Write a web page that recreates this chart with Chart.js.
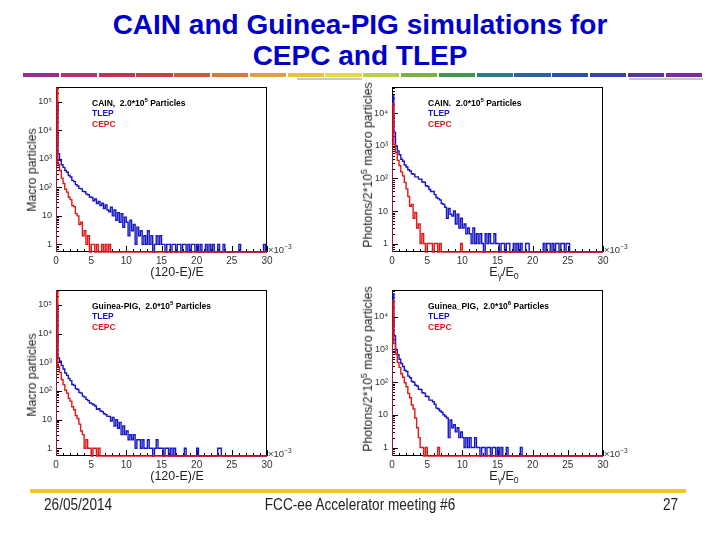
<!DOCTYPE html>
<html>
<head>
<meta charset="utf-8">
<script src="https://cdn.jsdelivr.net/npm/chart.js@4.4.1/dist/chart.umd.min.js"></script>
<style>
  body { margin: 0; width: 720px; height: 540px; background: #fff; position: relative; overflow: hidden;
         font-family: "Liberation Sans", Arial, sans-serif; }
  .abs { position: absolute; white-space: nowrap; }
  .title { left: 0; width: 720px; text-align: center; color: #0000cc; font-weight: bold; font-size: 28px; line-height: 31px; }
  .ann { font-size: 8.5px; font-weight: bold; line-height: 1; transform: translateY(-50%); }
  .axt { font-size: 12.5px; color: #222; line-height: 1; transform: translate(-50%, -50%); }
  .ayt { font-size: 12.3px; color: #222; line-height: 1; transform: translate(-50%, -50%) rotate(-90deg); }
  .exp { font-size: 9.5px; color: #333; line-height: 1; transform: translateY(-50%); }
  .sup { font-size: 0.7em; vertical-align: super; line-height: 0; }
  .sub { font-size: 0.7em; vertical-align: sub; line-height: 0; }
  .foot { font-size: 16px; color: #222; line-height: 1; transform-origin: left center; }
</style>
</head>
<body>
<div class="abs title" style="top:9px">CAIN and Guinea-PIG simulations for</div>
<div class="abs title" style="top:40px">CEPC and TLEP</div>
<div id="rainbow"></div>

<script>
// bin width of all histograms, x in units of 10^-3
const binWidth = 0.25;

// CAIN, (120-E)/E
const cainTlepLoss = [
  100000, 1500, 880, 620, 500, 390, 340, 260, 230, 175,
  158, 124, 112, 92, 88, 72, 70, 58, 55, 46,
  44, 34, 39, 27, 32, 23, 28, 18, 24, 16,
  14, 20, 10, 16, 7, 13, 6, 12, 4, 9,
  6, 2, 7, 3, 5, 1, 4, 2, 3, 1,
  2, 1, 3, 1, 2, 0, 1, 2, 1, 2,
  1, 1, 0, 1, 1, 0, 1, 1, 0, 1,
  1, 0, 1, 1, 0, 1, 0, 1, 1, 0,
  1, 0, 1, 0, 0, 1, 0, 1, 0, 1,
  0, 0, 1, 0, 0, 1, 0, 0, 0, 0,
  0, 0, 0, 0, 1, 0, 0, 0, 0, 0,
  0, 0, 0, 0, 0, 0, 0, 0, 1
];
const cainCepcLoss = [
  300000, 650, 390, 210, 136, 86, 68, 45, 37, 23,
  21, 12, 10, 5, 6, 2, 3, 1, 2, 0,
  1, 1, 0, 1, 0, 0, 1, 0, 1, 0,
  1
];

// CAIN, Eg/E0
const cainTlepPhot = [
  35000, 2600, 1000, 700, 540, 390, 340, 260, 225, 185,
  170, 140, 135, 112, 112, 96, 95, 78, 77, 60,
  57, 46, 40, 40, 32, 26, 24, 22, 17, 16,
  13, 6, 12, 8, 7, 10, 4, 8, 3, 6,
  3, 4, 2, 3, 2, 1, 3, 1, 2, 1,
  2, 1, 0, 2, 1, 2, 1, 1, 2, 1,
  1, 0, 1, 1, 0, 1, 1, 0, 0, 1,
  0, 1, 0, 1, 0, 0, 1, 1, 0, 0,
  0, 0, 0, 0, 0, 0, 1, 0, 1, 1,
  0, 1, 0, 1, 1, 0, 1, 1, 0, 1, 1
];
const cainCepcPhot = [
  20000, 1100, 620, 360, 250, 160, 120, 76, 48, 28,
  14, 16, 6, 9, 3, 4, 1, 2, 1, 0,
  1, 1, 1, 0, 1, 1, 0, 1, 0, 0,
  0, 0, 0, 0, 0, 0, 0, 0, 0, 1
];

// Guinea-PIG, (120-E)/E
const gpTlepLoss = [
  100000, 1400, 1080, 780, 580, 420, 350, 270, 228, 168,
  156, 120, 112, 88, 84, 66, 61, 51, 46, 38,
  36, 33, 30, 23, 24, 20, 19, 16, 15, 13,
  13, 9, 12, 6, 10, 5, 8, 3, 6, 3,
  4, 2, 3, 2, 3, 1, 2, 2, 1, 2,
  1, 1, 2, 1, 1, 0, 1, 2, 1, 1,
  1, 0, 1, 1, 0, 1, 0, 1, 0, 0,
  0, 0, 0, 1, 0, 0, 0, 0, 0, 0,
  1, 0, 0, 0, 0, 0, 0, 0, 0, 0,
  0, 0, 1, 1
];
const gpCepcLoss = [
  300000, 700, 440, 250, 166, 108, 84, 55, 44, 28,
  22, 14, 11, 7, 4, 3, 1, 2, 1, 1,
  0, 1, 1, 0, 1
];

// Guinea_PIG, Eg/E0
const gpTlepPhot = [
  50000, 2600, 1000, 680, 500, 370, 300, 230, 210, 152,
  136, 104, 99, 80, 76, 60, 59, 47, 46, 37,
  36, 28, 28, 25, 21, 16, 15, 13, 12, 10,
  9, 8, 2, 7, 4, 5, 3, 4, 2, 3,
  2, 1, 2, 1, 2, 1, 1, 2, 1, 1,
  0, 1, 1, 0, 1, 1, 0, 1, 1, 0,
  1, 0, 1, 0, 0, 1, 0, 0, 0, 0,
  0, 0, 0, 1
];
const gpCepcPhot = [
  30000, 1500, 720, 400, 280, 180, 140, 95, 72, 45,
  33, 20, 15, 8, 4, 2, 1, 1, 0, 1,
  0, 0, 0, 0, 0, 0, 1
];

const xMax = 30;
const BLUE = '#1616c4';
const RED = '#e01818';
const FONT = '"Liberation Sans", Arial, sans-serif';
const SUP = { '0': '⁰', '1': '¹', '2': '²', '3': '³', '4': '⁴', '5': '⁵', '6': '⁶' };

// rainbow separator under the title
const rainbowColors = ['#9a2a8c', '#bc3070', '#c63254', '#c83e44', '#d0583c', '#d87a36', '#e0a036', '#e6c432',
  '#e4dc3a', '#b6d040', '#7ab244', '#409852', '#2a8080', '#2a62a2', '#2a50b0', '#3a40b2', '#5832aa', '#7a2ea2'];
const rb = document.getElementById('rainbow');
rainbowColors.forEach((c, i) => {
  const d = document.createElement('div');
  d.className = 'abs';
  d.style.cssText = `left:${23 + i * 37.8}px;top:73px;width:36.3px;height:4px;background:${c}`;
  rb.appendChild(d);
});
[[297, 65], [629, 74]].forEach(([l, w]) => {
  const d = document.createElement('div');
  d.className = 'abs';
  d.style.cssText = `left:${l}px;top:78px;width:${w}px;height:2px;background:#c8c8c8`;
  rb.appendChild(d);
});

// empty bins sit on the bottom of the log axis, as ROOT draws them
function toPoints(vals, floor) {
  const y = v => (v === 0 ? floor : v);
  const pts = [{ x: 0, y: floor }];
  vals.forEach((v, i) => pts.push({ x: i * binWidth, y: y(v) }));
  pts.push({ x: vals.length * binWidth, y: floor });
  pts.push({ x: xMax, y: floor });
  return pts;
}

// ROOT-like frame with inward ticks, drawn under the histograms
const rootFrame = {
  id: 'rootFrame',
  beforeDatasetsDraw(chart) {
    const { ctx, chartArea: a, scales: { x, y } } = chart;
    ctx.save();
    ctx.strokeStyle = '#000';
    ctx.lineWidth = 1;
    ctx.strokeRect(a.left + 0.5, a.top + 0.5, a.right - a.left - 1, a.bottom - a.top - 1);
    ctx.beginPath();
    const e0 = Math.floor(Math.log10(y.min)), e1 = Math.ceil(Math.log10(y.max));
    for (let e = e0; e <= e1; e++) {
      for (let m = 1; m <= 9; m++) {
        const v = m * Math.pow(10, e);
        if (v < y.min || v > y.max) continue;
        const py = Math.round(y.getPixelForValue(v)) + 0.5;
        ctx.moveTo(a.left, py);
        ctx.lineTo(a.left + (m === 1 ? 6 : 3), py);
      }
    }
    for (let v = 0; v <= xMax; v++) {
      const px = Math.round(x.getPixelForValue(v)) + 0.5;
      ctx.moveTo(px, a.bottom);
      ctx.lineTo(px, a.bottom - (v % 5 === 0 ? 6 : 3));
    }
    ctx.stroke();
    ctx.restore();
  }
};

function logLabel(v) {
  const e = Math.log10(v);
  if (Math.abs(e - Math.round(e)) > 1e-9) return '';
  const n = Math.round(e);
  if (n === 0) return '1';
  if (n === 1) return '10';
  return '10' + String(n).split('').map(c => SUP[c]).join('');
}

function addText(cls, html, left, top, style) {
  const d = document.createElement('div');
  d.className = 'abs ' + cls;
  d.innerHTML = html;
  d.style.left = left + 'px';
  d.style.top = top + 'px';
  if (style) d.style.cssText += style;
  document.body.appendChild(d);
}

function makePanel(p) {
  const padL = 45, padT = 8, padR = 14, padB = 22;
  const cv = document.createElement('canvas');
  cv.width = p.R - p.L + padL + padR;
  cv.height = p.B - p.T + padT + padB;
  cv.style.cssText = `position:absolute;left:${p.L - padL}px;top:${p.T - padT}px`;
  document.body.appendChild(cv);
  const line = (label, vals, color) => ({
    label, data: toPoints(vals, p.yMin), borderColor: color, borderWidth: 1.4,
    stepped: true, pointRadius: 0, fill: false, clip: { left: 0, top: 0, right: 0, bottom: 1 }
  });
  new Chart(cv, {
    type: 'line',
    data: { datasets: [line('CEPC', p.cepc, RED), line('TLEP', p.tlep, BLUE)] },
    options: {
      responsive: false,
      animation: false,
      layout: { padding: { left: 0, top: padT, right: padR, bottom: 0 } },
      plugins: { legend: { display: false }, tooltip: { enabled: false } },
      scales: {
        x: {
          type: 'linear', min: 0, max: xMax,
          grid: { display: false, drawTicks: false }, border: { display: false },
          ticks: { stepSize: 5, padding: 3, color: '#333', font: { size: 10, family: FONT } },
          afterFit: s => { s.height = padB; s.paddingLeft = 0; s.paddingRight = 0; }
        },
        y: {
          type: 'logarithmic', min: p.yMin, max: p.yMax,
          grid: { display: false, drawTicks: false }, border: { display: false },
          ticks: { autoSkip: false, padding: 4, color: '#333', font: { size: 9, family: FONT }, callback: v => logLabel(v) },
          afterFit: s => { s.width = padL; s.paddingTop = 0; s.paddingBottom = 0; }
        }
      }
    },
    plugins: [rootFrame]
  });

  const ax = p.L + 36;
  addText('ann', p.head, ax, p.T + 16, 'color:#000');
  addText('ann', 'TLEP', ax, p.T + 26, 'color:' + BLUE);
  addText('ann', 'CEPC', ax, p.T + 36.5, 'color:' + RED);
  addText('exp', '×10<span class="sup">−3</span>', p.R + 1, p.B - 2);
  addText('axt', p.xTitle, p.xc, p.B + 20);
  addText('ayt', p.yTitle, p.yx, p.yc);
}

const lossTitle = '(120-E)/E';
const photTitle = 'E<span class="sub">γ</span>/E<span class="sub">0</span>';
const macroTitle = 'Macro particles';
const photYTitle = 'Photons/2*10<span class="sup">5</span> macro particles';

makePanel({ L: 56, T: 87, R: 267, B: 252, yMin: 0.54, yMax: 3.3e5, tlep: cainTlepLoss, cepc: cainCepcLoss,
  head: 'CAIN,&nbsp; 2.0*10<span class="sup">5</span> Particles', xTitle: lossTitle, xc: 177,
  yTitle: macroTitle, yx: 32, yc: 170 });
makePanel({ L: 392, T: 87, R: 603, B: 252, yMin: 0.55, yMax: 6.5e4, tlep: cainTlepPhot, cepc: cainCepcPhot,
  head: 'CAIN.&nbsp; 2.0*10<span class="sup">5</span> Particles', xTitle: photTitle, xc: 504,
  yTitle: photYTitle, yx: 368, yc: 165 });
makePanel({ L: 56, T: 290, R: 267, B: 456, yMin: 0.54, yMax: 3.3e5, tlep: gpTlepLoss, cepc: gpCepcLoss,
  head: 'Guinea-PIG,&nbsp; 2.0*10<span class="sup">5</span> Particles', xTitle: lossTitle, xc: 177,
  yTitle: macroTitle, yx: 32, yc: 375 });
makePanel({ L: 392, T: 290, R: 603, B: 456, yMin: 0.55, yMax: 6.5e4, tlep: gpTlepPhot, cepc: gpCepcPhot,
  head: 'Guinea_PIG,&nbsp; 2.0*10<span class="sup">6</span> Particles', xTitle: photTitle, xc: 504,
  yTitle: photYTitle, yx: 368, yc: 369 });

// footer
const bar = document.createElement('div');
bar.className = 'abs';
bar.style.cssText = 'left:30px;top:489px;width:656px;height:4px;background:#f2c81e';
document.body.appendChild(bar);
addText('foot', '26/05/2014', 44, 497, 'transform:scaleX(0.85)');
addText('foot', 'FCC-ee Accelerator meeting #6', 360, 497, 'transform:translateX(-50%) scaleX(0.85);transform-origin:center center');
addText('foot', '27', 663, 497, 'transform:scaleX(0.85)');
</script>
</body>
</html>
